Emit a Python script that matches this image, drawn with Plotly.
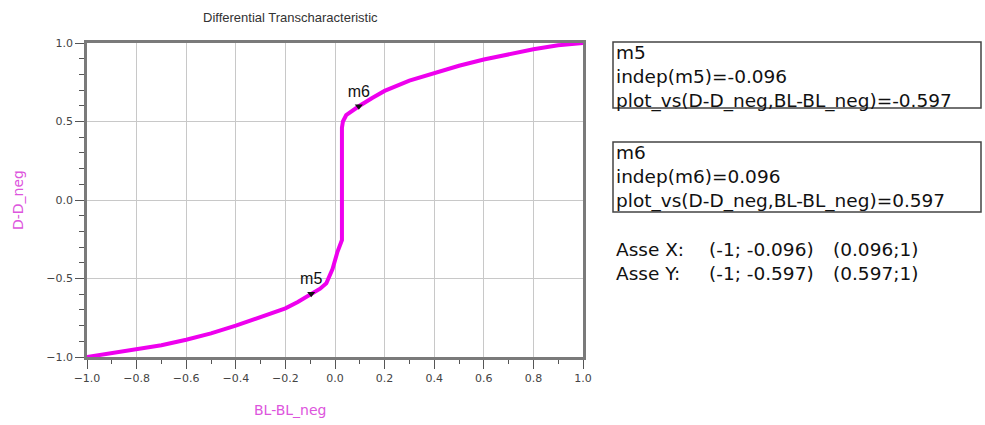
import plotly.graph_objects as go

# ---- data ----
bl_diff = [-1.0, -0.9, -0.8, -0.7, -0.6, -0.5, -0.4, -0.3, -0.2, -0.15, -0.096, -0.06, -0.035,
           -0.01, 0.01, 0.022, 0.028, 0.028, 0.032, 0.045, 0.07, 0.096, 0.15, 0.2, 0.3, 0.4,
           0.5, 0.6, 0.7, 0.8, 0.9, 1.0]
d_diff = [-1.0, -0.975, -0.955, -0.925, -0.89, -0.85, -0.80, -0.745, -0.69, -0.65, -0.597, -0.565,
          -0.53, -0.44, -0.33, -0.27, -0.255, 0.46, 0.50, 0.54, 0.57, 0.597, 0.65, 0.695, 0.76,
          0.81, 0.855, 0.895, 0.93, 0.96, 0.985, 1.0]

marker_names = ["m5", "m6"]
marker_x = [-0.096, 0.096]
marker_y = [-0.597, 0.597]

x_ticks = [-1.0, -0.8, -0.6, -0.4, -0.2, 0.0, 0.2, 0.4, 0.6, 0.8, 1.0]
y_ticks = [-1.0, -0.5, 0.0, 0.5, 1.0]

box1_lines = ["m5", "indep(m5)=-0.096", "plot_vs(D-D_neg,BL-BL_neg)=-0.597"]
box2_lines = ["m6", "indep(m6)=0.096", "plot_vs(D-D_neg,BL-BL_neg)=0.597"]
asse_labels = ["Asse X:", "Asse Y:"]
asse_low = ["(-1; -0.096)", "(-1; -0.597)"]
asse_high = ["(0.096;1)", "(0.597;1)"]

# ---- layout geometry (pixels) ----
W, H = 985, 425
L, R, T, B = 87, 583, 43, 357
PW, PH = R - L, B - T


def px(xp):
    return (xp - L) / PW


def py(yp):
    return (B - yp) / PH


fig = go.Figure()
fig.add_trace(go.Scatter(x=bl_diff, y=d_diff, mode="lines",
                         line=dict(color="#ee00ee", width=4), showlegend=False,
                         hoverinfo="skip"))
fig.add_trace(go.Scatter(x=marker_x, y=marker_y, mode="markers+text", text=marker_names,
                         textposition="top center",
                         textfont=dict(family="Liberation Sans", size=16, color="#111"),
                         marker=dict(symbol="triangle-down", size=7, color="#111"),
                         showlegend=False, cliponaxis=False))

axis_common = dict(showline=True, mirror=True, linecolor="#7a7a7a", linewidth=2.5,
                   gridcolor="#c8c8c8", gridwidth=1, zeroline=False, ticks="outside",
                   tickcolor="#555", tickfont=dict(family="DejaVu Sans", size=11, color="#444"),
                   tickformat=".1f")

fig.update_layout(
    width=W, height=H,
    margin=dict(l=L, r=W - R, t=T, b=H - B, pad=0),
    paper_bgcolor="white", plot_bgcolor="white",
    xaxis=dict(range=[-1, 1], tickvals=x_ticks, ticklen=9,
               minor=dict(dtick=0.1, tick0=-1, ticks="outside", ticklen=4, tickcolor="#555",
                          showgrid=False),
               **axis_common),
    yaxis=dict(range=[-1, 1], tickvals=y_ticks, ticklen=9,
               minor=dict(dtick=0.1, tick0=-1, ticks="outside", ticklen=5, tickcolor="#555",
                          showgrid=False),
               **axis_common),
)

ann = []
ann.append(dict(text="Differential Transcharacteristic", x=px(290), y=py(17), xref="paper",
                yref="paper", showarrow=False, xanchor="center", yanchor="middle",
                font=dict(family="Liberation Sans", size=13, color="#333")))
ann.append(dict(text="BL-BL_neg", x=px(290), y=py(410), xref="paper", yref="paper",
                showarrow=False, xanchor="center", yanchor="middle",
                font=dict(family="DejaVu Sans", size=14, color="#dd55dd")))
ann.append(dict(text="D-D_neg", x=px(18), y=py(200), xref="paper", yref="paper",
                showarrow=False, xanchor="center", yanchor="middle", textangle=-90,
                font=dict(family="DejaVu Sans", size=14, color="#dd55dd")))

box_font = dict(family="DejaVu Sans", size=18.5, color="#111")
for lines, yc in ((box1_lines, 77), (box2_lines, 177)):
    ann.append(dict(text="<br>".join(lines), x=px(615), y=py(yc), xref="paper", yref="paper",
                    showarrow=False, xanchor="left", yanchor="middle", align="left",
                    font=box_font, borderpad=0))

for col, xx in ((asse_labels, 615), (asse_low, 708), (asse_high, 832)):
    ann.append(dict(text="<br>".join(col), x=px(xx), y=py(261), xref="paper", yref="paper",
                    showarrow=False, xanchor="left", yanchor="middle", align="left",
                    font=box_font, borderpad=0))

fig.update_layout(annotations=ann)

shapes = []
for (y0, y1) in ((42, 108), (142, 212)):
    shapes.append(dict(type="rect", xref="paper", yref="paper", x0=px(613), x1=px(981),
                       y0=py(y1), y1=py(y0), line=dict(color="#444", width=1.5)))
fig.update_layout(shapes=shapes)

fig.write_html("out.html")
